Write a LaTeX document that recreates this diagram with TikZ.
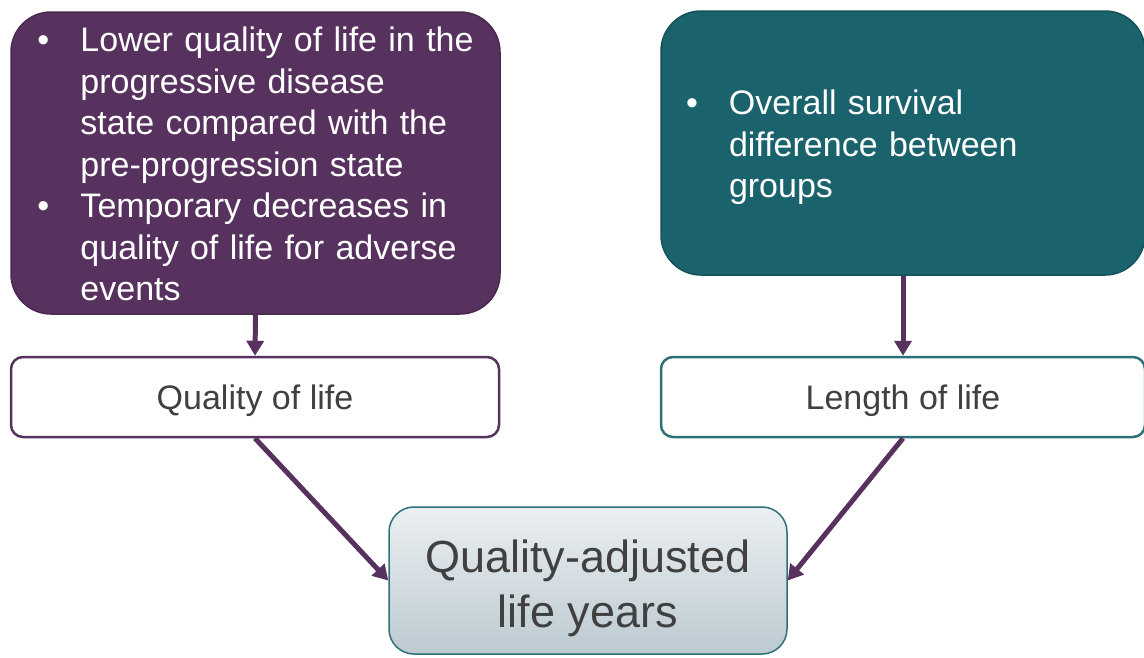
\documentclass[tikz,border=0pt]{standalone}
\usepackage{fontspec}
\setmainfont{Liberation Sans}
\usetikzlibrary{arrows.meta}
\definecolor{plum}{HTML}{58325F}
\definecolor{plumdark}{HTML}{4A2950}
\definecolor{tealbox}{HTML}{1A636C}
\definecolor{tealdark}{HTML}{14525A}
\definecolor{txtgray}{HTML}{404040}
\definecolor{qtop}{HTML}{EBEFF2}
\definecolor{qbot}{HTML}{BCCAD1}
\definecolor{qborder}{HTML}{2E7078}
\newcommand{\lowered}[2]{\raisebox{-#1}[\height][\depth]{#2}}
\begin{document}
\begin{tikzpicture}[x=1pt,y=-1pt,
  bigbox/.style={rounded corners=40pt, inner sep=0pt, text=white, align=left,
    font=\fontsize{34}{41.5}\selectfont, line width=1.5pt},
  smallbox/.style={rounded corners=12pt, inner sep=0pt, fill=white, text=txtgray,
    minimum height=80pt, line width=2.5pt, font=\fontsize{34}{40}\selectfont},
  qalybox/.style={rounded corners=25pt, inner sep=0pt, draw=qborder, line width=1.5pt,
    top color=qtop, bottom color=qbot, text=txtgray,
    minimum width=398pt, minimum height=147pt, font=\fontsize{45}{55}\selectfont},
  flow/.style={draw=plum, line width=5pt, -{Triangle[width=17pt,length=15pt]}}
]
\useasboundingbox (0,0) rectangle (1144,657);

\node[bigbox, fill=plum, draw=plumdark, minimum width=489pt, minimum height=302pt, text width=436pt]
  (qfac) at (255.5,163)
  {\lowered{5pt}{\begin{tabular}{@{}p{43pt}@{}l@{}}
   • & Lower quality of life in the\\
     & progressive disease\\
     & state compared with the\\
     & pre-progression state\\
   • & Temporary decreases in\\
     & quality of life for adverse\\
     & events
   \end{tabular}}};

\node[bigbox, fill=tealbox, draw=tealdark, minimum width=484pt, minimum height=264pt, text width=434pt]
  (lfac) at (903,143)
  {\lowered{5pt}{\begin{tabular}{@{}p{43pt}@{}l@{}}
   • & Overall survival\\
     & difference between\\
     & groups
   \end{tabular}}};

\node[smallbox, draw=plum, minimum width=488pt] (qol) at (255,397) {\lowered{4pt}{Quality of life}};
\node[smallbox, draw=qborder, minimum width=484pt] (lol) at (903,397) {\lowered{4pt}{Length of life}};

\node[qalybox] (qaly) at (588,580.5)
  {\lowered{8pt}{\begin{tabular}{@{}c@{}}Quality-adjusted\\life years\end{tabular}}};

\draw[flow] (qfac.south) -- (qol.north);
\draw[flow] (lfac.south) -- (lol.north);
\draw[flow] (qol.south) -- (qaly.west);
\draw[flow] (lol.south) -- (qaly.east);
\end{tikzpicture}
\end{document}
